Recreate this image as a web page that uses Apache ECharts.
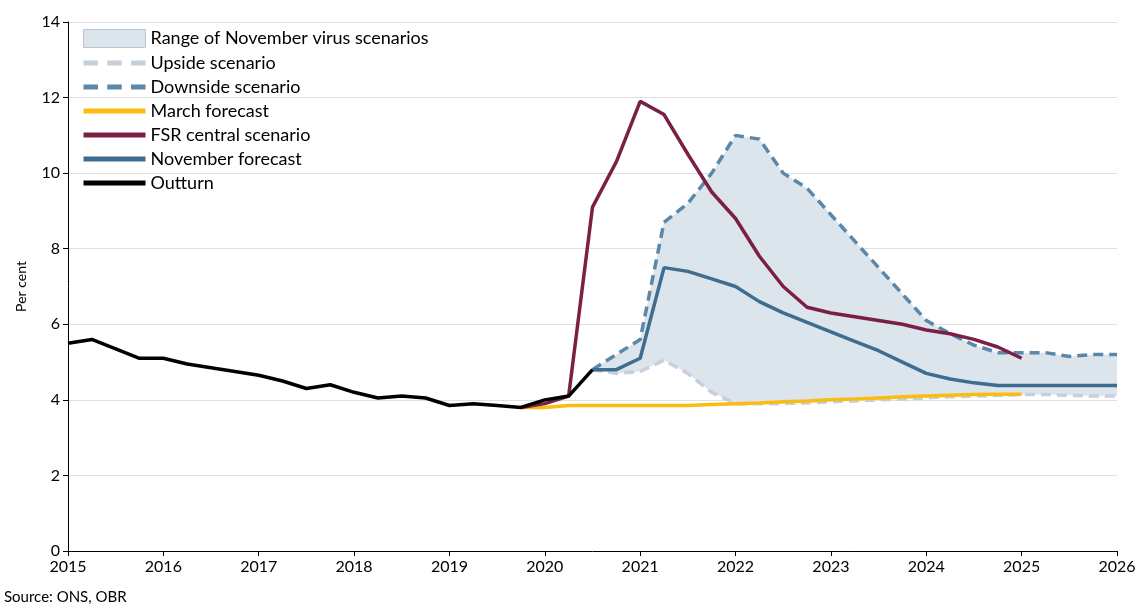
<!DOCTYPE html>
<html>
<head>
<meta charset="utf-8">
<script src="https://cdn.jsdelivr.net/npm/echarts@6/dist/echarts.min.js"></script>
<style>
body{margin:0;background:#fff;}
#main{width:1143px;height:609px;}
</style>
</head>
<body>
<div id="main"></div>
<script>
// quarters 2015Q1 .. 2026Q1
var quarters = [];
for (var y = 2015; y <= 2026; y++) {
    for (var q = 0; q < 4; q++) {
        if (y == 2026 && q > 0) break;
        quarters.push(q == 0 ? String(y) : y + 'Q' + (q + 1));
    }
}
// outturn starts 2015Q1
var outturn = [5.5, 5.6, 5.35, 5.1, 5.1, 4.95, 4.85, 4.75, 4.65, 4.5, 4.3, 4.4, 4.2, 4.05, 4.1, 4.05, 3.85, 3.9, 3.85, 3.8, 4.0, 4.1, 4.8];
// FSR central starts 2019Q4
var fsr = [3.8, 3.9, 4.1, 9.1, 10.3, 11.9, 11.55, 10.5, 9.5, 8.8, 7.8, 7.0, 6.45, 6.3, 6.2, 6.1, 6.0, 5.85, 5.75, 5.6, 5.4, 5.1];
// March forecast starts 2019Q4
var march = [3.8, 3.8, 3.85, 3.85, 3.85, 3.85, 3.85, 3.85, 3.88, 3.9, 3.92, 3.95, 3.97, 4.0, 4.02, 4.05, 4.08, 4.1, 4.12, 4.14, 4.15, 4.15];
// November forecast starts 2020Q3
var november = [4.8, 4.8, 5.1, 7.5, 7.4, 7.2, 7.0, 6.6, 6.3, 6.05, 5.8, 5.55, 5.3, 5.0, 4.7, 4.55, 4.45, 4.38, 4.38, 4.38, 4.38, 4.38, 4.38];
// scenarios start 2020Q3
var downside = [4.8, 5.2, 5.6, 8.7, 9.2, 10.0, 11.0, 10.9, 10.0, 9.6, 8.9, 8.2, 7.5, 6.8, 6.1, 5.75, 5.45, 5.25, 5.25, 5.25, 5.15, 5.2, 5.2];
var upside = [4.8, 4.7, 4.75, 5.05, 4.7, 4.2, 3.9, 3.9, 3.9, 3.92, 3.95, 3.97, 4.0, 4.02, 4.05, 4.08, 4.1, 4.12, 4.14, 4.14, 4.12, 4.1, 4.1];

function pad(start, arr) {
    var i0 = quarters.indexOf(start);
    return quarters.map(function (q, i) {
        var v = arr[i - i0];
        return v === undefined ? '-' : v;
    });
}
var bandDiff = downside.map(function (v, i) { return +(v - upside[i]).toFixed(2); });

var solidIcon = 'path://M0,0H60V5H0Z';
var dashIcon = 'path://M0,0H14V5H0ZM23,0H37V5H23ZM46,0H60V5H46Z';

var myChart = echarts.init(document.getElementById('main'));
var font = 'Lato';
option = {
    animation: false,
    textStyle: {fontFamily: font},
    grid: {left: 68, right: 26, top: 22, bottom: 58},
    legend: {
        orient: 'vertical', left: 78, top: 24, itemGap: 6, itemWidth: 62, itemHeight: 18,
        textStyle: {fontSize: 18, color: '#000', fontFamily: font},
        data: [
            {name: 'Range of November virus scenarios', icon: 'rect', itemStyle: {borderColor: '#b8c6d4', borderWidth: 1}},
            {name: 'Upside scenario', icon: dashIcon},
            {name: 'Downside scenario', icon: dashIcon},
            {name: 'March forecast', icon: solidIcon},
            {name: 'FSR central scenario', icon: solidIcon},
            {name: 'November forecast', icon: solidIcon},
            {name: 'Outturn', icon: solidIcon}
        ]
    },
    xAxis: {
        type: 'category', boundaryGap: false, data: quarters,
        axisLine: {lineStyle: {color: '#000'}},
        axisTick: {interval: 3, length: 5, lineStyle: {color: '#000'}},
        axisLabel: {interval: 3, color: '#000', fontSize: 16, formatter: function (v) { return v.slice(0, 4); }}
    },
    yAxis: {
        type: 'value', min: 0, max: 14, interval: 2,
        name: 'Per cent', nameLocation: 'middle', nameGap: 40, nameTextStyle: {fontSize: 14, color: '#000'},
        axisLine: {show: true, lineStyle: {color: '#000'}},
        axisTick: {show: true, length: 5, lineStyle: {color: '#000'}},
        axisLabel: {color: '#000', fontSize: 16},
        splitLine: {lineStyle: {color: '#e0e0e0'}}
    },
    series: [
        {type: 'line', stack: 'band', data: pad('2020Q3', upside), symbol: 'none', lineStyle: {width: 0}, silent: true},
        {name: 'Range of November virus scenarios', type: 'line', stack: 'band', data: pad('2020Q3', bandDiff), symbol: 'none',
            lineStyle: {width: 0}, itemStyle: {color: '#dce4ec'}, areaStyle: {color: '#dce4ec', opacity: 1}},
        {name: 'Upside scenario', type: 'line', data: pad('2020Q3', upside), symbol: 'none',
            itemStyle: {color: '#c6d0db'}, lineStyle: {color: '#c6d0db', width: 3.5, type: [10, 6]}},
        {name: 'Downside scenario', type: 'line', data: pad('2020Q3', downside), symbol: 'none',
            itemStyle: {color: '#5b87a8'}, lineStyle: {color: '#5b87a8', width: 3.5, type: [10, 6]}},
        {name: 'March forecast', type: 'line', data: pad('2019Q4', march), symbol: 'none',
            itemStyle: {color: '#fbbc12'}, lineStyle: {color: '#fbbc12', width: 3.5}},
        {name: 'FSR central scenario', type: 'line', data: pad('2019Q4', fsr), symbol: 'none',
            itemStyle: {color: '#7a1f45'}, lineStyle: {color: '#7a1f45', width: 3.5}},
        {name: 'November forecast', type: 'line', data: pad('2020Q3', november), symbol: 'none',
            itemStyle: {color: '#3f6d8f'}, lineStyle: {color: '#3f6d8f', width: 3.5}},
        {name: 'Outturn', type: 'line', data: pad('2015', outturn), symbol: 'none',
            itemStyle: {color: '#000'}, lineStyle: {color: '#000', width: 3.5}}
    ],
    graphic: [{type: 'text', left: 4, top: 590, style: {text: 'Source: ONS, OBR', fontSize: 15, fill: '#000', fontFamily: font}}]
};
myChart.setOption(option);
</script>
</body>
</html>
